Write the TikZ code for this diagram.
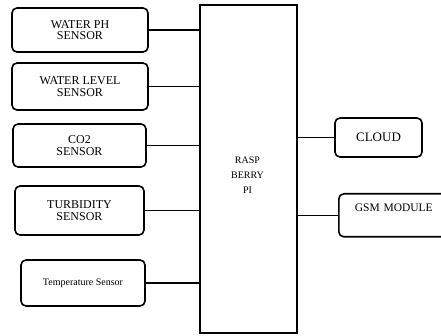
\documentclass[tikz,border=0pt]{standalone}
\usepackage{fontspec}
\setmainfont{Liberation Serif}

\begin{document}
\begin{tikzpicture}[
                x=1pt, y=-1pt,
                sensor/.style={draw, rounded corners=5pt, line width=1.6pt, align=center,
                               inner sep=0pt, font=\fontsize{12}{11.5}\selectfont},
                pibox/.style={draw, line width=1.3pt, minimum width=97pt, minimum height=328pt},
                link/.style={line width=1.2pt}
            ]

            \clip (0,0) rectangle (441,336);

            % sensors
            \node[sensor, minimum width=136pt, minimum height=44pt] (ph) at (80,30) {WATER PH\\SENSOR};
            \node[sensor, minimum width=136pt, minimum height=47pt] (level) at (80,86.5) {WATER LEVEL\\SENSOR};
            \node[sensor, minimum width=133pt, minimum height=43pt] (co2) at (79.5,145.5) {CO2\\SENSOR};
            \node[sensor, minimum width=129pt, minimum height=49pt] (turb) at (79.5,210.5) {TURBIDITY\\SENSOR};
            \node[sensor, minimum width=124pt, minimum height=46pt, font=\fontsize{10}{11}\selectfont] (temp) at (83,283) {Temperature Sensor};

            % controller
            \node[pibox, label={[name=pitext, yshift=-6pt, xshift=-1pt, align=center,
                  font=\fontsize{10}{15}\selectfont]center:RASP\\BERRY\\PI}] (rpi) at (248.5,169) {};

            % outputs
            \node[sensor, minimum width=87pt, minimum height=39pt, font=\fontsize{13}{14}\selectfont] (cloud) at (378.5,137.5) {CLOUD};
            \node[sensor, anchor=north west, text width=100pt, align=left, inner xsep=16pt,
                  text height=18pt, text depth=25pt, font=\fontsize{11.5}{13}\selectfont] (gsm) at (338,193) {GSM MODULE};

            \foreach \s in {ph,level,co2,turb,temp}
                \draw[link] (\s.east) -- (\s.east -| rpi.west);

            \draw[link] (cloud.west) -- (cloud.west -| rpi.east);
            \draw[link] (gsm.west) -- (gsm.west -| rpi.east);

        \end{tikzpicture}
\end{document}
